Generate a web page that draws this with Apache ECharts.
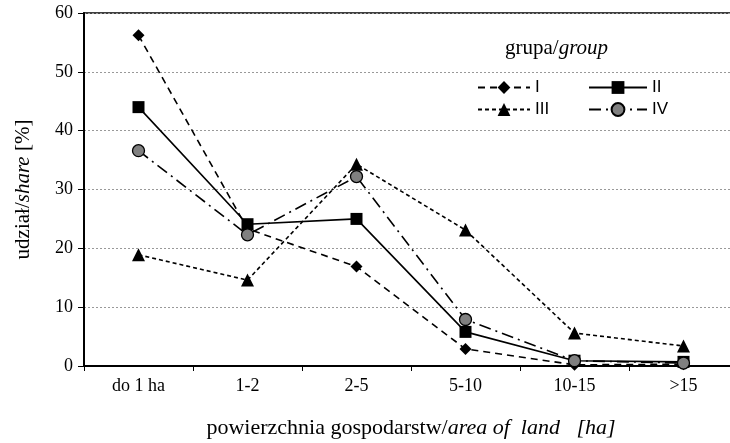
<!DOCTYPE html>
<html><head><meta charset="utf-8">
<script src="https://cdn.jsdelivr.net/npm/echarts@6/dist/echarts.min.js"></script>
<style>html,body{margin:0;padding:0;background:#fff}#c{width:730px;height:443px}</style>
</head><body><div id="c"></div>
<script>
const categories = ['do 1 ha', '1-2', '2-5', '5-10', '10-15', '>15'];
const seriesNames = ['I', 'II', 'III', 'IV'];
const valuesI   = [56.2, 23.3, 16.9, 2.9, 0.2, 0.3];
const valuesII  = [44.0, 24.1, 25.0, 5.8, 0.9, 0.7];
const valuesIII = [18.9, 14.6, 34.3, 23.1, 5.6, 3.4];
const valuesIV  = [36.6, 22.3, 32.2, 7.9, 0.9, 0.5];
const yTicks = [0, 10, 20, 30, 40, 50, 60];

const serif = '"Liberation Serif", "Times New Roman", serif';
const sans = '"Liberation Sans", Arial, sans-serif';

const chart = echarts.init(document.getElementById('c'), null, {renderer: 'canvas'});
function mk(name, data, symbol, size, type, fill) {
  return {
    name, type: 'line', data, symbol, symbolSize: size,
    showSymbol: true,
    lineStyle: {color: '#000', width: 1.6, type},
    itemStyle: {color: fill, borderColor: '#000', borderWidth: fill === '#000' ? 0 : 1.3},
    z: 3
  };
}
chart.setOption({
  animation: false,
  title: {
    text: '{a|grupa/}{b|group}',
    left: 500, top: 33,
    textStyle: {fontWeight: 'normal', rich: {
      a: {fontFamily: serif, fontSize: 21, color: '#000', fontWeight: 'normal'},
      b: {fontFamily: serif, fontSize: 21, fontStyle: 'italic', color: '#000', fontWeight: 'normal'}
    }}
  },
  legend: [
    {data: ['I', 'III'], orient: 'vertical', left: 472, top: 74, itemWidth: 52, itemHeight: 16, itemGap: 5,
     textStyle: {fontFamily: sans, fontSize: 17, color: '#000'}},
    {data: ['II', 'IV'], orient: 'vertical', left: 583, top: 74, itemWidth: 58, itemHeight: 16, itemGap: 5,
     textStyle: {fontFamily: sans, fontSize: 17, color: '#000'}}
  ],
  grid: {left: 84, top: 13, width: 654, height: 353, outerBoundsMode: 'none', containLabel: false,
         show: true, borderColor: '#000', borderWidth: 1.5, backgroundColor: 'transparent'},
  xAxis: {
    type: 'category', data: categories, boundaryGap: true,
    name: '{a|powierzchnia gospodarstw/}{b|area of  land   [ha]}',
    nameLocation: 'middle', nameGap: 51,
    nameTextStyle: {rich: {
      a: {fontFamily: serif, fontSize: 22, color: '#000'},
      b: {fontFamily: serif, fontSize: 22, fontStyle: 'italic', color: '#000'}
    }},
    axisLine: {lineStyle: {color: '#000', width: 2}},
    axisTick: {show: true, length: 5, lineStyle: {color: '#000', width: 1}},
    axisLabel: {fontFamily: serif, fontSize: 18, color: '#000', margin: 11}
  },
  yAxis: {
    type: 'value', min: yTicks[0], max: yTicks[yTicks.length - 1], interval: 10,
    name: '{a|udział/}{b|share}{a| [%]}',
    nameLocation: 'middle', nameGap: 50, nameRotate: 90,
    nameTextStyle: {rich: {
      a: {fontFamily: serif, fontSize: 21, color: '#000'},
      b: {fontFamily: serif, fontSize: 21, fontStyle: 'italic', color: '#000'}
    }},
    axisLine: {show: true, lineStyle: {color: '#000', width: 2}},
    axisTick: {show: true, length: 6, lineStyle: {color: '#000', width: 1}},
    axisLabel: {fontFamily: serif, fontSize: 18, color: '#000', margin: 11},
    splitLine: {lineStyle: {color: '#999', type: [2, 2], width: 1}}
  },
  series: [
    mk('I', valuesI, 'diamond', 12, [7, 5], '#000'),
    mk('II', valuesII, 'rect', 12, 'solid', '#000'),
    mk('III', valuesIII, 'triangle', 13, [4, 3], '#000'),
    mk('IV', valuesIV, 'circle', 12, [12, 5, 2, 5], '#808080')
  ]
});
</script></body></html>
